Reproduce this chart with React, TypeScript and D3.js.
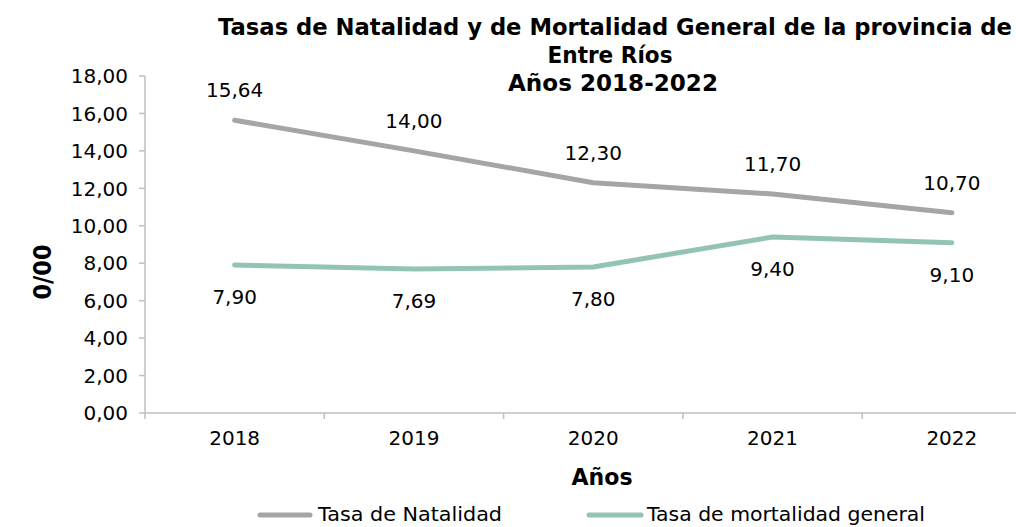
import React from "react";
import * as d3 from "d3";

const years = ["2018", "2019", "2020", "2021", "2022"];
const natalidad = [15.64, 14.0, 12.3, 11.7, 10.7];
const mortalidad = [7.9, 7.69, 7.8, 9.4, 9.1];
const yTicks = [0, 2, 4, 6, 8, 10, 12, 14, 16, 18];
const titleLines = [
  "Tasas de Natalidad y de Mortalidad General  de la provincia de",
  "Entre Ríos",
  "Años 2018-2022",
];
const seriesNames = ["Tasa de Natalidad", "Tasa de mortalidad general"];

const W = 1016;
const H = 527;
const FONT = "'DejaVu Sans', sans-serif";
const fmt = (v: number) => v.toFixed(2).replace(".", ",");

export default function App() {
  const left = 145;
  const x = d3.scaleBand<string>().domain(years).range([left, left + 5 * 179.3]);
  const y = d3.scaleLinear().domain([0, 18]).range([413, 76]);
  const cx = (d: string) => (x(d) as number) + x.bandwidth() / 2;
  const line = d3
    .line<number>()
    .x((_, i) => cx(years[i]))
    .y((v) => y(v));
  const gray = "#a5a5a5";
  const teal = "#92c3b5";
  const axisColor = "#bfbfbf";
  const titleX = [615, 610, 613];
  const titleLen = [794, 125, 210];
  const fs = 20;
  return (
    <svg
      width={W}
      height={H}
      style={{ position: "absolute", left: 0, top: 0, background: "#fff" }}
      fontFamily={FONT}
    >
      {titleLines.map((t, i) => (
        <text
          key={i}
          x={titleX[i]}
          y={35 + i * 28}
          textAnchor="middle"
          fontWeight="bold"
          fontSize={22.5}
          fill="#000"
          textLength={titleLen[i]}
          lengthAdjust="spacingAndGlyphs"
        >
          {t}
        </text>
      ))}
      {/* y axis */}
      <line x1={left} x2={left} y1={y(18)} y2={y(0)} stroke={axisColor} strokeWidth={1.5} />
      {yTicks.map((t) => (
        <g key={t}>
          <line x1={left - 6} x2={left} y1={y(t)} y2={y(t)} stroke={axisColor} strokeWidth={1.5} />
          <text x={128} y={y(t)} dy="0.36em" textAnchor="end" fontSize={fs} fill="#000">
            {fmt(t)}
          </text>
        </g>
      ))}
      {/* x axis */}
      <line x1={left} x2={W} y1={y(0)} y2={y(0)} stroke={axisColor} strokeWidth={1.5} />
      {years.map((yr) => (
        <g key={yr}>
          <line
            x1={x(yr) as number}
            x2={x(yr) as number}
            y1={y(0)}
            y2={y(0) + 6}
            stroke={axisColor}
            strokeWidth={1.5}
          />
          <text x={cx(yr)} y={445} textAnchor="middle" fontSize={fs} fill="#000">
            {yr}
          </text>
        </g>
      ))}
      <text
        x={602}
        y={485}
        textAnchor="middle"
        fontWeight="bold"
        fontSize={23}
        fill="#000"
        textLength={61}
        lengthAdjust="spacingAndGlyphs"
      >
        Años
      </text>
      <text
        transform={`translate(51,272) rotate(-90)`}
        textAnchor="middle"
        fontWeight="bold"
        fontSize={24}
        fill="#000"
        textLength={55}
        lengthAdjust="spacingAndGlyphs"
      >
        0/00
      </text>
      {/* lines */}
      <path d={line(natalidad) as string} fill="none" stroke={gray} strokeWidth={5} strokeLinecap="round" strokeLinejoin="round" />
      <path d={line(mortalidad) as string} fill="none" stroke={teal} strokeWidth={5} strokeLinecap="round" strokeLinejoin="round" />
      {natalidad.map((v, i) => (
        <text key={"n" + i} x={cx(years[i])} y={y(v) - 23} textAnchor="middle" fontSize={fs} fill="#000">
          {fmt(v)}
        </text>
      ))}
      {mortalidad.map((v, i) => (
        <text key={"m" + i} x={cx(years[i])} y={y(v) + 39} textAnchor="middle" fontSize={fs} fill="#000">
          {fmt(v)}
        </text>
      ))}
      {/* legend */}
      <line x1={260} x2={310} y1={515} y2={515} stroke={gray} strokeWidth={5} strokeLinecap="round" />
      <text x={318} y={521} fontSize={20} fill="#000" textLength={184} lengthAdjust="spacingAndGlyphs">
        {seriesNames[0]}
      </text>
      <line x1={589} x2={641} y1={515} y2={515} stroke={teal} strokeWidth={5} strokeLinecap="round" />
      <text x={647} y={521} fontSize={20} fill="#000" textLength={278} lengthAdjust="spacingAndGlyphs">
        {seriesNames[1]}
      </text>
    </svg>
  );
}
